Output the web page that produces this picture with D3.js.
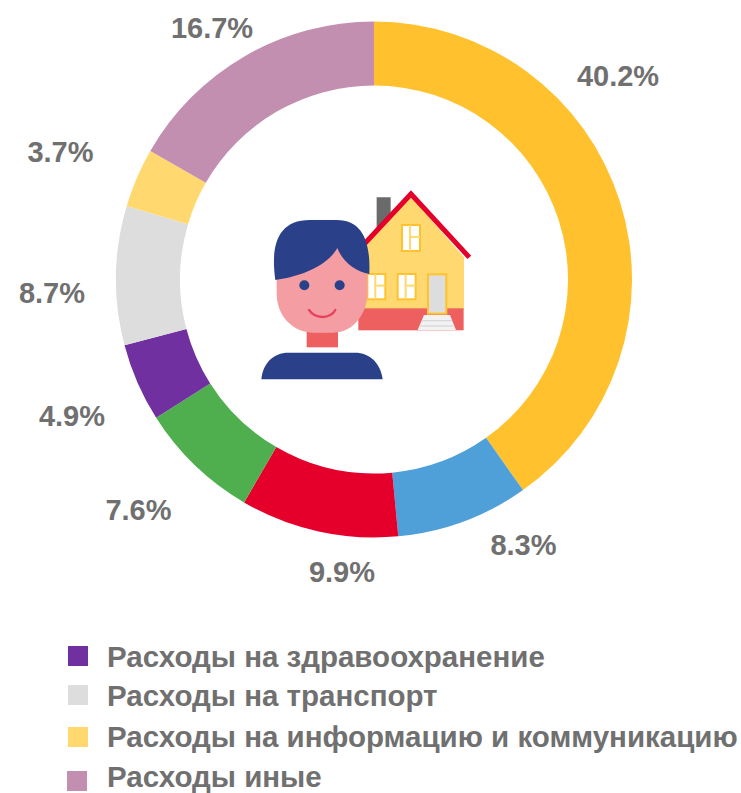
<!DOCTYPE html>
<html><head><meta charset="utf-8">
<script src="https://cdnjs.cloudflare.com/ajax/libs/d3/7.8.5/d3.min.js"></script>
<style>html,body{margin:0;padding:0;background:#fff;overflow:hidden}svg{display:block}
text{font-family:"Liberation Sans",Arial,sans-serif;font-weight:700;fill:#707070}</style>
</head><body><svg id="c" width="741" height="793"></svg>
<script>
const sliceValues=[40.2,8.3,9.9,7.6,4.9,8.7,3.7,16.7];
const sliceColors=["#FFC22E","#4F9FD9","#E4002B","#4FAF4F","#7030A0","#DDDDDD","#FFD96F","#C38FB0"];
const labelCenters=[[618,76],[523.5,545],[342,572],[138.5,510],[72,416],[52,293],[60.5,152],[212,28]];
const legendLabels=["Расходы на здравоохранение","Расходы на транспорт","Расходы на информацию и коммуникацию","Расходы иные"];
const legendColors=["#7030A0","#DDDDDD","#FFD96F","#C38FB0"];
const legendBaselines=[667,706,747,787];
const legendSwatchTops=[646,685,727,771];

const svg=d3.select("#c");
const cx=374,cy=279.5,R=258,r=194;
const pie=d3.pie().sort(null).value(d=>d);
const arc=d3.arc().outerRadius(R).innerRadius(r);
const g=svg.append("g").attr("transform",`translate(${cx},${cy})`);
g.selectAll("path").data(pie(sliceValues)).join("path")
 .attr("d",arc).attr("fill",(d,i)=>sliceColors[i]);

svg.append("g").selectAll("text").data(sliceValues).join("text")
 .attr("x",(d,i)=>labelCenters[i][0]).attr("y",(d,i)=>labelCenters[i][1])
 .attr("text-anchor","middle").attr("dominant-baseline","central")
 .attr("font-size",29).text(d=>d.toFixed(1)+"%");

const leg=svg.append("g");
legendLabels.forEach((t,i)=>{
  leg.append("rect").attr("x",i==3?67:68).attr("y",legendSwatchTops[i]).attr("width",20).attr("height",20).attr("fill",legendColors[i]);
  leg.append("text").attr("x",107).attr("y",legendBaselines[i]).attr("font-size",29.5).text(t);
});

// Centre pictogram
const defs=svg.append("defs");
defs.append("filter").attr("id","soft").append("feGaussianBlur").attr("stdDeviation",1.6);
const ic=svg.append("g").attr("transform","translate(250,180) scale(0.3333)").attr("filter","url(#soft)");
const shape=(d,f)=>ic.append("path").attr("d",d).attr("fill",f);
const box=(x,y,w,h,f)=>ic.append("rect").attr("x",x).attr("y",y).attr("width",w).attr("height",h).attr("fill",f);
shape("M380 52H422V140L380 182Z","#6b6b6b");
shape("M330 210L483 50L642 232V390H330Z","#FFD96F");
box(325,385,316,66,"#EE6060");
ic.append("path").attr("d","M345 190L483 42L658 232").attr("fill","none").attr("stroke","#E4002B").attr("stroke-width",15);
const win=(x,y,w,h)=>{
  ic.append("rect").attr("x",x).attr("y",y).attr("width",w).attr("height",h).attr("fill","#fff").attr("stroke","#FFC22E").attr("stroke-width",6);
  box(x+w/2-6,y,6,h,"#FFD96F");
  box(x+w/2,y+h*0.42,w/2,6,"#FFD96F");
};
win(456,135,54,78);win(352,282,54,76);win(443,282,54,76);
ic.append("rect").attr("x",534).attr("y",283).attr("width",55).attr("height",118).attr("fill","#DDDDDD").attr("stroke","#FFC22E").attr("stroke-width",6);
shape("M522 405H600L618 450H503Z","#F2F2F2");
box(516,420,90,4,"#D8D8D8");box(510,436,100,4,"#D8D8D8");
box(170,450,94,52,"#EE6060");
shape("M80 290L120 170H320L352 270V340C352 400 310 458 250 458H190C130 458 80 410 80 340Z","#F49EA3");
shape("M76 300C62 200 80 120 180 120H260C340 120 362 190 358 282C320 275 280 250 262 204C230 260 150 290 76 300Z","#2A4189");
ic.append("circle").attr("cx",163).attr("cy",316).attr("r",15).attr("fill","#2A4189");
ic.append("circle").attr("cx",269).attr("cy",316).attr("r",15).attr("fill","#2A4189");
ic.append("path").attr("d","M177 390C195 418 240 418 256 390").attr("fill","none").attr("stroke","#E8405A").attr("stroke-width",7).attr("stroke-linecap","round");
shape("M34 598C38 550 70 518 115 518H315C360 518 392 550 398 598Z","#2A4189");
</script></body></html>
